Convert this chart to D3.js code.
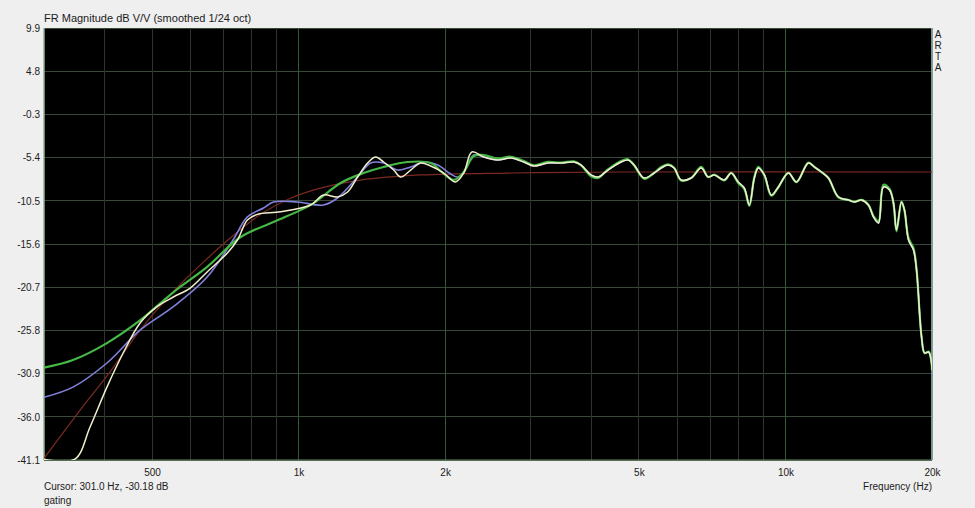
<!DOCTYPE html>
<html><head><meta charset="utf-8">
<script src="https://cdn.jsdelivr.net/npm/d3@7"></script>
<style>
html,body{margin:0;padding:0;background:#efefef;}
svg{display:block;font-family:"Liberation Sans",Arial,sans-serif;}
</style></head>
<body><svg id="c" width="975" height="508"></svg>
<script>
// ---- data (frequency Hz, dB) ----
const yTicks = [9.9, 4.8, -0.3, -5.4, -10.5, -15.6, -20.7, -25.8, -30.9, -36.0, -41.1];
const xGrid = [400,500,600,700,800,900,1000,2000,3000,4000,5000,6000,7000,8000,9000,10000,20000];
const xLabels = [[500,"500"],[1000,"1k"],[2000,"2k"],[5000,"5k"],[10000,"10k"],[20000,"20k"]];

const redTarget = [[300,-40.9],[356,-35.2],[410,-30.7],[473,-25.75],[545,-21.6],[628,-18.1],[724,-14.9],[835,-12.1],[962,-10.2],[1109,-9.0],[1341,-8.05],[1781,-7.45],[2729,-7.22],[4595,-7.1],[20000,-7.1]];

const sharedHF = [[2401,-5.33],[2566,-5.68],[2729,-5.45],[2902,-5.92],[3043,-6.39],[3252,-6.04],[3459,-6.04],[3678,-5.92],[3801,-6.27],[3987,-7.45],[4122,-7.69],[4320,-6.87],[4595,-5.92],[4751,-5.68],[4888,-6.27],[5125,-7.81],[5374,-7.22],[5555,-6.63],[5742,-6.27],[5907,-6.63],[6105,-8.04],[6405,-7.81],[6714,-6.63],[6940,-7.69],[7139,-7.45],[7486,-8.04],[7737,-7.22],[7999,-8.28],[8231,-8.99],[8430,-11.0],[8632,-7.81],[8797,-6.63],[9052,-7.45],[9356,-9.82],[9672,-8.87],[10141,-7.22],[10533,-8.28],[11145,-6.04],[11467,-6.51],[11853,-7.10],[12253,-7.81],[12847,-10.05],[13471,-10.41],[13858,-10.64],[14326,-10.41],[14808,-11.0],[15164,-12.41],[15527,-13.12],[15899,-8.87],[16360,-9.23],[16673,-10.76],[16909,-13.95],[17314,-10.64],[17561,-11.59],[17900,-15.13],[18328,-16.31],[18591,-18.67],[19038,-26.58],[19313,-28.47],[19684,-28.35],[19960,-29.65],[20000,-30.5]];

const greenLF = [[300,-30.2],[344,-29.3],[404,-27.3],[473,-24.6],[553,-21.3],[649,-18.3],[759,-14.8],[888,-13.0],[1009,-11.6],[1073,-10.8],[1220,-8.4],[1360,-7.22],[1495,-6.51],[1675,-5.92],[1868,-6.04],[1959,-7.0],[2084,-8.04],[2184,-7.1],[2290,-5.21]];
const greenHF = [[2401,-5.1],[2566,-5.5],[2729,-5.3],[2902,-5.8],[3043,-6.3],[3252,-5.9],[3459,-6.0],[3678,-5.85],[3801,-6.3],[3987,-7.6],[4122,-7.8],[4320,-6.8],[4595,-5.8],[4751,-5.6],[4888,-6.3],[5125,-7.9],[5374,-7.2],[5555,-6.5],[5742,-6.2],[5907,-6.6],[6105,-8.1],[6405,-7.8],[6714,-6.5],[6940,-7.7],[7139,-7.4],[7486,-8.1],[7737,-7.2],[7999,-8.4],[8231,-9.1],[8430,-11.1],[8632,-7.7],[8797,-6.5],[9052,-7.5],[9356,-9.9],[9672,-8.9],[10141,-7.2],[10533,-8.3],[11145,-6.0],[11467,-6.5],[11853,-7.1],[12253,-7.8],[12847,-10.1],[13471,-10.4],[13858,-10.6],[14326,-10.4],[14808,-11.0],[15164,-12.3],[15527,-12.9],[15899,-8.6],[16360,-9.1],[16673,-10.9],[16909,-14.1],[17314,-10.6],[17561,-11.7],[17900,-14.9],[18328,-16.1],[18591,-18.6],[19038,-26.6],[19313,-28.5],[19684,-28.3],[19960,-29.7],[20000,-30.5]];

const blueLF = [[300,-33.7],[344,-32.5],[404,-29.65],[473,-25.75],[553,-23.0],[649,-19.5],[734,-15.1],[785,-12.4],[847,-11.35],[888,-10.64],[995,-10.64],[1125,-11.0],[1202,-10.17],[1322,-7.69],[1406,-6.04],[1495,-6.04],[1598,-6.87],[1699,-6.51],[1807,-5.92],[1931,-6.27],[2054,-7.34],[2123,-7.69],[2184,-7.1],[2290,-5.09]];

const whiteLF = [[300,-41.05],[347,-41.0],[373,-37.2],[404,-32.5],[436,-28.5],[473,-24.9],[512,-23.0],[553,-21.86],[599,-20.8],[649,-18.9],[714,-16.66],[749,-15.13],[785,-12.77],[823,-12.1],[918,-11.8],[1058,-11.0],[1125,-9.82],[1202,-10.05],[1261,-9.46],[1322,-7.69],[1386,-6.04],[1440,-5.33],[1495,-5.92],[1568,-6.87],[1621,-7.69],[1699,-6.87],[1781,-6.04],[1868,-6.39],[1987,-7.22],[2100,-8.28],[2184,-7.22],[2270,-4.74]];

const series = [
  {name:"target", color:"#7c2a22", width:1.2, data:redTarget},
  {name:"blue", color:"#8282de", width:1.6, data:blueLF.concat(sharedHF)},
  {name:"green", color:"#45b845", width:2.2, data:greenLF.concat(greenHF)},
  {name:"white", color:"#f2f0cc", width:1.5, data:whiteLF.concat(sharedHF)}
];

// ---- layout ----
const L=44, R=932, T=28, B=460;
const svg = d3.select("#c");
const x = d3.scaleLog().domain([300,20000]).range([L,R]);
const y = d3.scaleLinear().domain([-41.1,9.9]).range([B,T]);

svg.append("rect").attr("x",L).attr("y",T).attr("width",R-L).attr("height",B-T).attr("fill","#000");

// grid
const grid = svg.append("g");
grid.selectAll("line.h").data(yTicks).join("line")
  .attr("x1",L).attr("x2",R).attr("y1",d=>y(d)).attr("y2",d=>y(d))
  .attr("stroke","#3a4a3a").attr("stroke-width",1).attr("shape-rendering","crispEdges");
const majors = new Set([1000,2000,10000]);
grid.selectAll("line.v").data(xGrid).join("line")
  .attr("x1",d=>x(d)).attr("x2",d=>x(d)).attr("y1",T).attr("y2",B)
  .attr("stroke",d=>majors.has(d)?"#2f5a30":"#2e332e").attr("stroke-width",1).attr("shape-rendering","crispEdges");

// frame
svg.append("line").attr("x1",L).attr("x2",L).attr("y1",T).attr("y2",B).attr("stroke","#8fb08f").attr("stroke-width",1.5);
svg.append("line").attr("x1",R).attr("x2",R).attr("y1",T).attr("y2",B).attr("stroke","#9cc4c0").attr("stroke-width",1.5);
svg.append("line").attr("x1",L).attr("x2",R).attr("y1",B).attr("y2",B).attr("stroke","#6f8f6f").attr("stroke-width",1);

// curves
svg.append("clipPath").attr("id","clip").append("rect").attr("x",L).attr("y",T).attr("width",R-L).attr("height",B-T);
const line = d3.line().x(d=>x(d[0])).y(d=>y(Math.max(-41.0,d[1]))).curve(d3.curveCatmullRom.alpha(0.5));
const g = svg.append("g").attr("clip-path","url(#clip)");
g.selectAll("path").data(series).join("path")
  .attr("d",d=>line(d.data)).attr("fill","none")
  .attr("stroke",d=>d.color).attr("stroke-width",d=>d.width)
  .attr("stroke-linejoin","round");

// axes text
const txt = "#1b1b1b";
const yAxis = d3.axisLeft(y).tickValues(yTicks).tickFormat(d=>d.toFixed(1)).tickSize(0).tickPadding(4);
const ya = svg.append("g").attr("transform",`translate(${L},0)`).call(yAxis);
ya.select(".domain").remove();
ya.selectAll("text").attr("font-size",10).attr("fill",txt).attr("font-family","Liberation Sans, Arial, sans-serif");

const xAxis = d3.axisBottom(x).tickValues(xLabels.map(d=>d[0])).tickFormat((d,i)=>xLabels[i][1]).tickSize(0).tickPadding(9);
const xa = svg.append("g").attr("transform",`translate(0,${B})`).call(xAxis);
xa.select(".domain").remove();
xa.selectAll("text").attr("font-size",10).attr("fill",txt).attr("font-family","Liberation Sans, Arial, sans-serif");

svg.append("text").attr("x",L).attr("y",22).attr("font-size",11).attr("fill",txt).text("FR Magnitude dB V/V (smoothed 1/24 oct)");
svg.append("text").attr("x",L).attr("y",490).attr("font-size",10).attr("fill",txt).text("Cursor: 301.0 Hz, -30.18 dB");
svg.append("text").attr("x",L).attr("y",504).attr("font-size",10).attr("fill",txt).text("gating");
svg.append("text").attr("x",R).attr("y",490).attr("text-anchor","end").attr("font-size",10).attr("fill",txt).text("Frequency (Hz)");
["A","R","T","A"].forEach((c,i)=>{
  svg.append("text").attr("x",938).attr("y",38+i*11).attr("text-anchor","middle").attr("font-size",10).attr("fill",txt).text(c);
});
</script></body></html>
